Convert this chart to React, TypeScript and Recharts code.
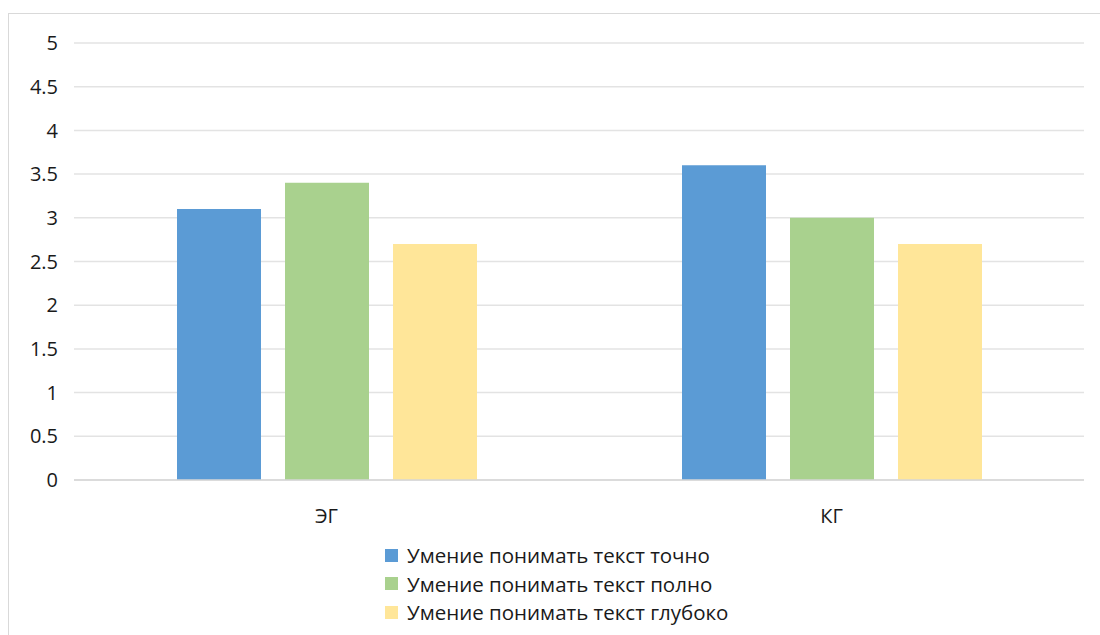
import React from 'react';
import {BarChart, Bar, XAxis, YAxis, CartesianGrid, Legend} from 'recharts';

// ── Data ────────────────────────────────────────────────────

const groups = ['ЭГ', 'КГ'];
const exactly = [3.1, 3.6];
const fully = [3.4, 3.0];
const deeply = [2.7, 2.7];
const yTicks = [0, 0.5, 1, 1.5, 2, 2.5, 3, 3.5, 4, 4.5, 5];

const series = [
  {key: 'exactly', name: 'Умение понимать текст точно', color: '#5B9BD5'},
  {key: 'fully', name: 'Умение понимать текст полно', color: '#A9D18E'},
  {key: 'deeply', name: 'Умение понимать текст глубоко', color: '#FFE699'},
];

const chartData = groups.map((g, i) => ({
  group: g,
  exactly: exactly[i],
  fully: fully[i],
  deeply: deeply[i],
}));

const FONT = '"Open Sans", sans-serif';

function LegendBox() {
  return (
    <div style={{fontFamily: FONT, fontSize: 20.5, color: '#1a1a1a', lineHeight: '28.5px'}}>
      {series.map((s) => (
        <div key={s.key} style={{display: 'flex', alignItems: 'center'}}>
          <span style={{display: 'inline-block', width: 13, height: 13, background: s.color, marginRight: 9}} />
          <span>{s.name}</span>
        </div>
      ))}
    </div>
  );
}

export default function App() {
  return (
    <div style={{position: 'absolute', left: 0, top: 0, width: 1100, height: 635, overflow: 'hidden', background: '#fff'}}>
      <div
        style={{
          position: 'absolute',
          left: 8,
          top: 13,
          width: 1200,
          height: 700,
          borderLeft: '1.5px solid #d9d9d9',
          borderTop: '1.5px solid #d9d9d9',
        }}
      />
      <div style={{position: 'absolute', left: 0, top: 0}}>
        <BarChart
          width={1100}
          height={635}
          data={chartData}
          margin={{top: 43, right: 16, left: 14, bottom: 0}}
          barSize={84}
          barGap={24}
        >
          <CartesianGrid vertical={false} stroke="#e3e3e3" strokeWidth={1.5} />
          <XAxis
            dataKey="group"
            height={155}
            axisLine={{stroke: '#d6d6d6', strokeWidth: 1.5}}
            tickLine={false}
            tickSize={0}
            tickMargin={29}
            tick={{fill: '#1a1a1a', fontSize: 20, fontFamily: FONT}}
          />
          <YAxis
            width={60}
            domain={[0, 5]}
            ticks={yTicks}
            axisLine={false}
            tickLine={false}
            tickSize={0}
            tickMargin={16}
            tick={{fill: '#1a1a1a', fontSize: 20, fontFamily: FONT}}
          />
          <Legend
            layout="vertical"
            align="center"
            verticalAlign="middle"
            content={<LegendBox />}
            wrapperStyle={{top: 541, left: 385, width: 440}}
          />
          {series.map((s) => (
            <Bar key={s.key} dataKey={s.key} name={s.name} fill={s.color} isAnimationActive={false} />
          ))}
        </BarChart>
      </div>
    </div>
  );
}
